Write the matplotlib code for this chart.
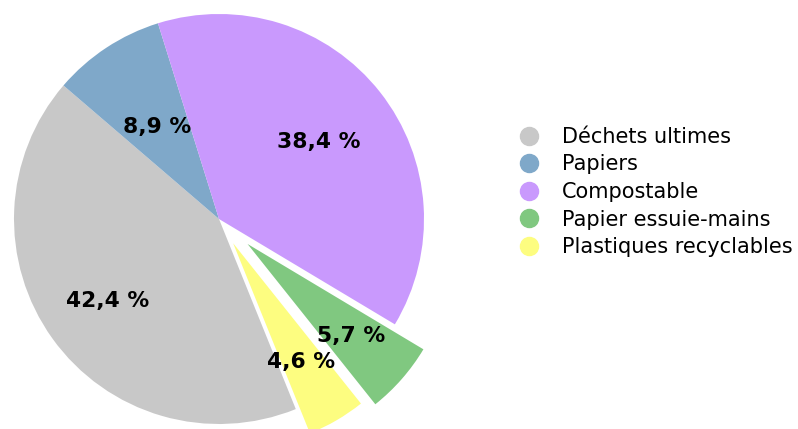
import numpy as np
import matplotlib
matplotlib.use("Agg")
import matplotlib.pyplot as plt
from matplotlib.lines import Line2D

categories = ["Déchets ultimes", "Papiers", "Compostable", "Papier essuie-mains", "Plastiques recyclables"]
values = [42.4, 8.9, 38.4, 5.7, 4.6]
colors = ["#c8c8c8", "#7fa8c9", "#c999fd", "#80c880", "#fdfd80"]
explode = [0, 0, 0, 0.185, 0.137]
label_dist = [0.67, 0.55, 0.62, 0.67, 0.66]

plt.rcParams['font.family'] = ['DejaVu Sans']
fig = plt.figure(figsize=(7.98, 4.29), dpi=100)
W, H = 798, 429
cx, cy, R = 219, 429 - 219, 205
L = 1.25
half = L * R
ax = fig.add_axes([(cx - half) / W, (cy - half) / H, 2 * half / W, 2 * half / H])
wedges, _ = ax.pie(values, colors=colors, explode=explode, startangle=292,
                   counterclock=False, radius=1,
                   wedgeprops=dict(linewidth=0))
ax.set_xlim(-L, L)
ax.set_ylim(-L, L)
ax.set_aspect('equal')
ax.axis('off')
for w in wedges:
    w.set_clip_on(False)

for w, v, d in zip(wedges, values, label_dist):
    mid = np.deg2rad((w.theta1 + w.theta2) / 2)
    x = w.center[0] + d * w.r * np.cos(mid)
    y = w.center[1] + d * w.r * np.sin(mid)
    ax.text(x, y, f"{v:.1f} %".replace('.', ','), ha='center', va='center_baseline',
            fontsize=15.7, fontweight='bold', color='black')

handles = [Line2D([0], [0], marker='o', linestyle='none', markersize=13,
                  markerfacecolor=c, markeredgecolor=c) for c in colors]
fig.legend(handles, categories, loc='center left', bbox_to_anchor=(519 / W, 1 - 192 / H),
           frameon=False, fontsize=15, borderpad=0, borderaxespad=0,
           handlelength=1.0, handletextpad=1.04, labelspacing=0.36)

fig.savefig("out.png", dpi=100)
